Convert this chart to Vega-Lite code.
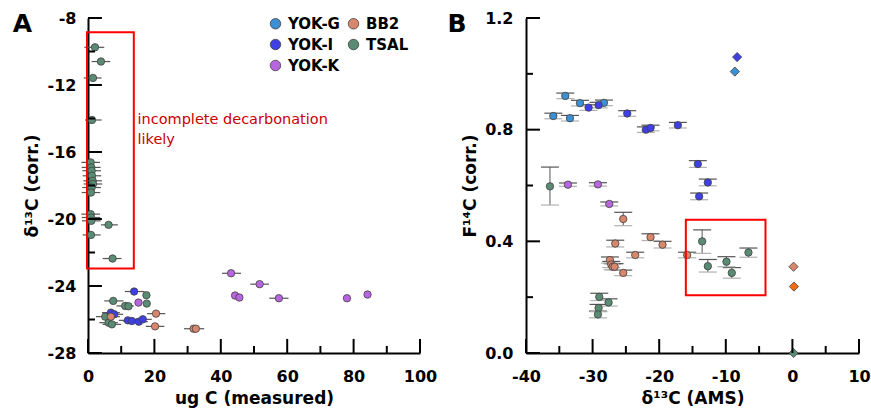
{
  "$schema": "https://vega.github.io/schema/vega-lite/v6.json",
  "padding": {"left": 12, "top": 10, "right": 5, "bottom": 5},
  "spacing": 10,
  "config": {
    "view": {"stroke": null},
    "font": "DejaVu Sans",
    "axis": {
      "domainColor": "#000", "domainWidth": 2, "ticks": false, "tickSize": 0,
      "grid": false, "labelFlush": false, "labelFont": "DejaVu Sans", "labelFontSize": 16, "labelFontWeight": "bold",
      "labelColor": "#000", "titleFont": "DejaVu Sans", "titleFontSize": 17, "titleFontWeight": "bold", "titleColor": "#000"
    }
  },
  "resolve": {"scale": {"color": "independent", "shape": "independent", "size": "independent"}},
  "datasets": {
    "a": [
      {"g": "TSAL", "c": 2.1, "d": -9.75, "lo": -1.1, "hi": 4.9},
      {"g": "TSAL", "c": 3.9, "d": -10.6, "lo": 1.1, "hi": 6.7},
      {"g": "TSAL", "c": 1.5, "d": -11.58, "lo": -1.3, "hi": 4.1},
      {"g": "TSAL", "c": 1.2, "d": -14.09, "lo": -0.9, "hi": 4.1},
      {"g": "TSAL", "c": 0.8, "d": -16.62, "lo": -2.0, "hi": 3.6},
      {"g": "TSAL", "c": 1.0, "d": -16.92, "lo": -1.9, "hi": 3.8},
      {"g": "TSAL", "c": 1.1, "d": -17.12, "lo": -1.7, "hi": 3.9},
      {"g": "TSAL", "c": 1.2, "d": -17.42, "lo": -1.6, "hi": 4.0},
      {"g": "TSAL", "c": 1.4, "d": -17.72, "lo": -1.4, "hi": 4.2},
      {"g": "TSAL", "c": 1.5, "d": -17.91, "lo": -1.3, "hi": 4.3},
      {"g": "TSAL", "c": 1.1, "d": -18.12, "lo": -1.7, "hi": 3.9},
      {"g": "TSAL", "c": 0.9, "d": -18.42, "lo": -1.9, "hi": 3.7},
      {"g": "TSAL", "c": 0.8, "d": -19.71, "lo": -2.0, "hi": 3.6},
      {"g": "TSAL", "c": 0.9, "d": -19.91, "lo": -1.9, "hi": 3.7},
      {"g": "TSAL", "c": 1.0, "d": -20.11, "lo": -1.8, "hi": 3.8},
      {"g": "TSAL", "c": 6.2, "d": -20.35, "lo": 3.9, "hi": 9.0},
      {"g": "TSAL", "c": 0.9, "d": -20.95, "lo": -1.6, "hi": 3.8},
      {"g": "TSAL", "c": 7.4, "d": -22.36, "lo": 4.4, "hi": 10.1},
      {"g": "TSAL", "c": 17.6, "d": -24.55},
      {"g": "TSAL", "c": 7.6, "d": -24.89, "lo": 4.9, "hi": 10.7},
      {"g": "TSAL", "c": 11.2, "d": -25.19, "lo": 8.6, "hi": 13.8},
      {"g": "TSAL", "c": 12.2, "d": -25.21},
      {"g": "TSAL", "c": 17.7, "d": -25.05},
      {"g": "TSAL", "c": 5.2, "d": -25.83, "lo": 2.4, "hi": 8.0},
      {"g": "TSAL", "c": 6.2, "d": -26.19, "lo": 3.4, "hi": 9.0},
      {"g": "TSAL", "c": 7.2, "d": -26.29, "lo": 4.4, "hi": 10.0},
      {"g": "YOK-I", "c": 13.9, "d": -24.33, "lo": 11.1, "hi": 17.0},
      {"g": "YOK-I", "c": 6.9, "d": -25.59, "lo": 4.2, "hi": 9.6},
      {"g": "YOK-I", "c": 7.9, "d": -25.69, "lo": 5.2, "hi": 10.6},
      {"g": "YOK-I", "c": 12.0, "d": -26.05, "lo": 9.3, "hi": 14.7},
      {"g": "YOK-I", "c": 13.2, "d": -26.09, "lo": 10.5, "hi": 15.9},
      {"g": "YOK-I", "c": 15.3, "d": -26.13, "lo": 12.6, "hi": 18.0},
      {"g": "YOK-I", "c": 16.5, "d": -25.99, "lo": 13.8, "hi": 19.2},
      {"g": "YOK-K", "c": 43.1, "d": -23.24, "lo": 40.4, "hi": 46.1},
      {"g": "YOK-K", "c": 51.7, "d": -23.89, "lo": 48.9, "hi": 54.5},
      {"g": "YOK-K", "c": 44.3, "d": -24.57},
      {"g": "YOK-K", "c": 45.6, "d": -24.69},
      {"g": "YOK-K", "c": 57.5, "d": -24.73, "lo": 54.6, "hi": 60.4},
      {"g": "YOK-K", "c": 78.0, "d": -24.73},
      {"g": "YOK-K", "c": 84.2, "d": -24.51},
      {"g": "YOK-K", "c": 15.2, "d": -24.99},
      {"g": "BB2", "c": 6.9, "d": -25.83, "lo": 4.2, "hi": 9.6},
      {"g": "BB2", "c": 20.5, "d": -25.65, "lo": 17.8, "hi": 23.3},
      {"g": "BB2", "c": 20.2, "d": -26.41, "lo": 17.4, "hi": 23.0},
      {"g": "BB2", "c": 31.8, "d": -26.55, "lo": 28.9, "hi": 35.0},
      {"g": "BB2", "c": 32.5, "d": -26.55}
    ],
    "txa": [
      {"v": 0, "p": -28, "q": -27.16},
      {"v": 20, "p": -28, "q": -27.16},
      {"v": 40, "p": -28, "q": -27.16},
      {"v": 60, "p": -28, "q": -27.16},
      {"v": 80, "p": -28, "q": -27.16},
      {"v": 100, "p": -28, "q": -27.16},
      {"v": 10, "p": -28, "q": -27.58},
      {"v": 30, "p": -28, "q": -27.58},
      {"v": 50, "p": -28, "q": -27.58},
      {"v": 70, "p": -28, "q": -27.58},
      {"v": 90, "p": -28, "q": -27.58}
    ],
    "tya": [
      {"v": -28, "p": 0, "q": 4.2},
      {"v": -24, "p": 0, "q": 4.2},
      {"v": -20, "p": 0, "q": 4.2},
      {"v": -16, "p": 0, "q": 4.2},
      {"v": -12, "p": 0, "q": 4.2},
      {"v": -8, "p": 0, "q": 4.2},
      {"v": -26, "p": 0, "q": 2.1},
      {"v": -22, "p": 0, "q": 2.1},
      {"v": -18, "p": 0, "q": 2.1},
      {"v": -14, "p": 0, "q": 2.1},
      {"v": -10, "p": 0, "q": 2.1}
    ],
    "txb": [
      {"v": -40, "p": 0, "q": 0.05},
      {"v": -30, "p": 0, "q": 0.05},
      {"v": -20, "p": 0, "q": 0.05},
      {"v": -10, "p": 0, "q": 0.05},
      {"v": 0, "p": 0, "q": 0.05},
      {"v": 10, "p": 0, "q": 0.05},
      {"v": -35, "p": 0, "q": 0.025},
      {"v": -25, "p": 0, "q": 0.025},
      {"v": -15, "p": 0, "q": 0.025},
      {"v": -5, "p": 0, "q": 0.025},
      {"v": 5, "p": 0, "q": 0.025}
    ],
    "tyb": [
      {"v": 0, "p": -40, "q": -37.9},
      {"v": 0.4, "p": -40, "q": -37.9},
      {"v": 0.8, "p": -40, "q": -37.9},
      {"v": 1.2, "p": -40, "q": -37.9},
      {"v": 0.2, "p": -40, "q": -38.95},
      {"v": 0.6, "p": -40, "q": -38.95},
      {"v": 1.0, "p": -40, "q": -38.95}
    ],
    "b": [
      {"g": "YOK-G", "k": "circle", "x": -34.1, "f": 0.921, "lo": 0.911, "hi": 0.931},
      {"g": "YOK-G", "k": "circle", "x": -35.9, "f": 0.849, "lo": 0.839, "hi": 0.859},
      {"g": "YOK-G", "k": "circle", "x": -33.4, "f": 0.841, "lo": 0.831, "hi": 0.851},
      {"g": "YOK-G", "k": "circle", "x": -31.9, "f": 0.895, "lo": 0.885, "hi": 0.905},
      {"g": "YOK-G", "k": "circle", "x": -28.3, "f": 0.896, "lo": 0.886, "hi": 0.906},
      {"g": "YOK-G", "k": "diamond", "x": -8.64, "f": 1.008},
      {"g": "YOK-I", "k": "circle", "x": -30.6, "f": 0.879, "lo": 0.869, "hi": 0.889},
      {"g": "YOK-I", "k": "circle", "x": -29.1, "f": 0.888, "lo": 0.878, "hi": 0.898},
      {"g": "YOK-I", "k": "circle", "x": -24.8, "f": 0.858, "lo": 0.848, "hi": 0.868},
      {"g": "YOK-I", "k": "circle", "x": -22.0, "f": 0.800, "lo": 0.790, "hi": 0.810},
      {"g": "YOK-I", "k": "circle", "x": -21.3, "f": 0.806, "lo": 0.796, "hi": 0.816},
      {"g": "YOK-I", "k": "circle", "x": -17.2, "f": 0.816, "lo": 0.806, "hi": 0.826},
      {"g": "YOK-I", "k": "circle", "x": -14.2, "f": 0.677, "lo": 0.665, "hi": 0.689},
      {"g": "YOK-I", "k": "circle", "x": -12.7, "f": 0.611, "lo": 0.599, "hi": 0.623},
      {"g": "YOK-I", "k": "circle", "x": -14.0, "f": 0.561, "lo": 0.549, "hi": 0.573},
      {"g": "YOK-I", "k": "diamond", "x": -8.3, "f": 1.060},
      {"g": "YOK-K", "k": "circle", "x": -33.7, "f": 0.603, "lo": 0.597, "hi": 0.609},
      {"g": "YOK-K", "k": "circle", "x": -29.2, "f": 0.604, "lo": 0.598, "hi": 0.610},
      {"g": "YOK-K", "k": "circle", "x": -27.5, "f": 0.534, "lo": 0.527, "hi": 0.541},
      {"g": "TSAL", "k": "circle", "x": -36.4, "f": 0.597, "lo": 0.530, "hi": 0.666},
      {"g": "TSAL", "k": "circle", "x": -29.0, "f": 0.201, "lo": 0.188, "hi": 0.214},
      {"g": "TSAL", "k": "circle", "x": -27.6, "f": 0.181, "lo": 0.168, "hi": 0.194},
      {"g": "TSAL", "k": "circle", "x": -29.1, "f": 0.161, "lo": 0.148, "hi": 0.174},
      {"g": "TSAL", "k": "circle", "x": -29.2, "f": 0.138, "lo": 0.126, "hi": 0.150},
      {"g": "TSAL", "k": "circle", "x": -13.55, "f": 0.400, "lo": 0.357, "hi": 0.441},
      {"g": "TSAL", "k": "circle", "x": -12.7, "f": 0.311, "lo": 0.290, "hi": 0.335},
      {"g": "TSAL", "k": "circle", "x": -9.9, "f": 0.327, "lo": 0.309, "hi": 0.345},
      {"g": "TSAL", "k": "circle", "x": -9.1, "f": 0.287, "lo": 0.268, "hi": 0.306},
      {"g": "TSAL", "k": "circle", "x": -6.6, "f": 0.360, "lo": 0.343, "hi": 0.376},
      {"g": "TSAL", "k": "diamond", "x": 0.17, "f": 0.0},
      {"g": "BB2", "k": "circle", "x": -25.4, "f": 0.480, "lo": 0.456, "hi": 0.504},
      {"g": "BB2", "k": "circle", "x": -26.6, "f": 0.392, "lo": 0.380, "hi": 0.404},
      {"g": "BB2", "k": "circle", "x": -21.3, "f": 0.415, "lo": 0.403, "hi": 0.427},
      {"g": "BB2", "k": "circle", "x": -19.5, "f": 0.388, "lo": 0.376, "hi": 0.400},
      {"g": "BB2", "k": "circle", "x": -23.6, "f": 0.351, "lo": 0.341, "hi": 0.361},
      {"g": "BB2", "k": "circle", "x": -15.8, "f": 0.351, "lo": 0.341, "hi": 0.361},
      {"g": "BB2", "k": "circle", "x": -27.4, "f": 0.333, "lo": 0.322, "hi": 0.344},
      {"g": "BB2", "k": "circle", "x": -27.2, "f": 0.317, "lo": 0.306, "hi": 0.328},
      {"g": "BB2", "k": "circle", "x": -27.0, "f": 0.309, "lo": 0.298, "hi": 0.320},
      {"g": "BB2", "k": "circle", "x": -26.7, "f": 0.309, "lo": 0.298, "hi": 0.320},
      {"g": "BB2", "k": "circle", "x": -25.4, "f": 0.287, "lo": 0.277, "hi": 0.297},
      {"g": "BB2", "k": "diamond", "x": 0.17, "f": 0.309},
      {"g": "STD", "k": "diamond", "x": 0.23, "f": 0.238}
    ]
  },
  "hconcat": [
    {
      "width": 332,
      "height": 335,
      "resolve": {"axis": {"x": "independent", "y": "independent"}},
      "layer": [
        {
          "data": {"name": "a"},
          "transform": [{"filter": "isValid(datum.lo)"}],
          "mark": {"type": "rule", "color": "#555", "strokeWidth": 1.2},
          "encoding": {
            "x": {"field": "lo", "type": "quantitative", "title": "ug C (measured)",
              "scale": {"domain": [0, 100], "nice": false, "zero": false},
              "axis": {"orient": "bottom", "values": [0, 20, 40, 60, 80, 100],
                "labelExpr": "'' + datum.value", "labelPadding": 15, "titlePadding": 6}},
            "x2": {"field": "hi"},
            "y": {"field": "d", "type": "quantitative", "title": "δ¹³C (corr.)",
              "scale": {"domain": [-28, -8], "nice": false, "zero": false},
              "axis": {"orient": "left", "values": [-28, -24, -20, -16, -12, -8],
                "labelExpr": "'' + datum.value", "labelPadding": 12, "titlePadding": 6}}
          }
        },
        {
          "data": {"name": "a"},
          "mark": {"type": "point", "filled": true, "shape": "circle", "size": 55, "stroke": "#404040", "strokeWidth": 0.8, "opacity": 1},
          "encoding": {
            "x": {"field": "c", "type": "quantitative", "axis": null},
            "y": {"field": "d", "type": "quantitative", "axis": null},
            "color": {"field": "g", "type": "nominal",
              "scale": {"domain": ["YOK-G", "YOK-I", "YOK-K", "BB2", "TSAL"], "range": ["#3b8fd4", "#3f3fe6", "#b866e0", "#d8866c", "#5a8c74"]},
              "legend": {"orient": "none", "legendX": 180, "legendY": -2, "columns": 2, "title": null, "padding": 0,
                "symbolType": "circle", "symbolSize": 110, "symbolStrokeColor": "#404040", "symbolStrokeWidth": 0.8, "symbolOpacity": 1,
                "labelFont": "DejaVu Sans", "labelFontSize": 15, "labelFontWeight": "bold", "labelColor": "#000",
                "labelOffset": 5, "rowPadding": 5, "columnPadding": 6}}
          }
        },
        {
          "data": {"values": [{"x1": -0.3, "x2": 13.8, "y1": -8.85, "y2": -22.96}]},
          "mark": {"type": "rect", "fillOpacity": 0, "stroke": "#ff0000", "strokeWidth": 2},
          "encoding": {
            "x": {"field": "x1", "type": "quantitative", "axis": null},
            "x2": {"field": "x2"},
            "y": {"field": "y1", "type": "quantitative", "axis": null},
            "y2": {"field": "y2"}
          }
        },
        {
          "data": {"values": [{"x": 14.9, "y": -13.65, "t": "incomplete decarbonation\nlikely"}]},
          "mark": {"type": "text", "align": "left", "baseline": "top", "lineBreak": "\n", "font": "DejaVu Sans", "fontSize": 14.5, "color": "#c80000", "lineHeight": 20},
          "encoding": {
            "x": {"field": "x", "type": "quantitative", "axis": null},
            "y": {"field": "y", "type": "quantitative", "axis": null},
            "text": {"field": "t"}
          }
        },
        {
          "data": {"values": [{"x": -22.7, "y": -8.85, "t": "A"}]},
          "mark": {"type": "text", "align": "left", "baseline": "alphabetic", "font": "DejaVu Sans", "fontSize": 25, "fontWeight": "bold", "color": "#000"},
          "encoding": {
            "x": {"field": "x", "type": "quantitative", "axis": null},
            "y": {"field": "y", "type": "quantitative", "axis": null},
            "text": {"field": "t"}
          }
        },
        {
          "data": {"name": "txa"},
          "mark": {"type": "rule", "color": "#000", "strokeWidth": 2},
          "encoding": {
            "x": {"field": "v", "type": "quantitative", "axis": null},
            "y": {"field": "p", "type": "quantitative", "axis": null},
            "y2": {"field": "q"}
          }
        },
        {
          "data": {"name": "tya"},
          "mark": {"type": "rule", "color": "#000", "strokeWidth": 2},
          "encoding": {
            "y": {"field": "v", "type": "quantitative", "axis": null},
            "x": {"field": "p", "type": "quantitative", "axis": null},
            "x2": {"field": "q"}
          }
        }
      ]
    },
    {
      "width": 333,
      "height": 335,
      "resolve": {"axis": {"x": "independent", "y": "independent"}},
      "layer": [
        {
          "data": {"name": "b"},
          "transform": [{"filter": "isValid(datum.lo)"}],
          "mark": {"type": "rule", "color": "#555", "strokeWidth": 1},
          "encoding": {
            "x": {"field": "x", "type": "quantitative", "title": "δ¹³C (AMS)",
              "scale": {"domain": [-40, 10], "nice": false, "zero": false},
              "axis": {"orient": "bottom", "values": [-40, -30, -20, -10, 0, 10],
                "labelExpr": "'' + datum.value", "labelPadding": 15, "titlePadding": 6}},
            "y": {"field": "lo", "type": "quantitative", "title": "F¹⁴C (corr.)",
              "scale": {"domain": [0, 1.2], "nice": false, "zero": false},
              "axis": {"orient": "left", "values": [0, 0.4, 0.8, 1.2], "format": ".1f",
                "labelPadding": 13, "titlePadding": 5}},
            "y2": {"field": "hi"}
          }
        },
        {
          "data": {"name": "b"},
          "transform": [{"filter": "isValid(datum.lo)"}],
          "mark": {"type": "tick", "orient": "horizontal", "color": "#555", "size": 18, "thickness": 1.2, "opacity": 1},
          "encoding": {
            "x": {"field": "x", "type": "quantitative", "axis": null},
            "y": {"field": "hi", "type": "quantitative", "axis": null}
          }
        },
        {
          "data": {"name": "b"},
          "transform": [{"filter": "isValid(datum.lo)"}],
          "mark": {"type": "tick", "orient": "horizontal", "color": "#b0b0b0", "size": 18, "thickness": 1.2, "opacity": 1},
          "encoding": {
            "x": {"field": "x", "type": "quantitative", "axis": null},
            "y": {"field": "lo", "type": "quantitative", "axis": null}
          }
        },
        {
          "data": {"name": "b"},
          "mark": {"type": "point", "filled": true, "stroke": "#404040", "strokeWidth": 0.8, "opacity": 1},
          "encoding": {
            "x": {"field": "x", "type": "quantitative", "axis": null},
            "y": {"field": "f", "type": "quantitative", "axis": null},
            "shape": {"field": "k", "type": "nominal", "scale": {"domain": ["circle", "diamond"], "range": ["circle", "diamond"]}, "legend": null},
            "size": {"field": "k", "type": "nominal", "scale": {"domain": ["circle", "diamond"], "range": [55, 85]}, "legend": null},
            "color": {"field": "g", "type": "nominal", "legend": null,
              "scale": {"domain": ["YOK-G", "YOK-I", "YOK-K", "BB2", "TSAL", "STD"], "range": ["#3b8fd4", "#3f3fe6", "#b866e0", "#d8866c", "#5a8c74", "#f26b0f"]}}
          }
        },
        {
          "data": {"values": [{"x1": -16.0, "x2": -4.04, "y1": 0.477, "y2": 0.207}]},
          "mark": {"type": "rect", "fillOpacity": 0, "stroke": "#ff0000", "strokeWidth": 2},
          "encoding": {
            "x": {"field": "x1", "type": "quantitative", "axis": null},
            "x2": {"field": "x2"},
            "y": {"field": "y1", "type": "quantitative", "axis": null},
            "y2": {"field": "y2"}
          }
        },
        {
          "data": {"values": [{"x": -51.8, "y": 1.151, "t": "B"}]},
          "mark": {"type": "text", "align": "left", "baseline": "alphabetic", "font": "DejaVu Sans", "fontSize": 25, "fontWeight": "bold", "color": "#000"},
          "encoding": {
            "x": {"field": "x", "type": "quantitative", "axis": null},
            "y": {"field": "y", "type": "quantitative", "axis": null},
            "text": {"field": "t"}
          }
        },
        {
          "data": {"name": "txb"},
          "mark": {"type": "rule", "color": "#000", "strokeWidth": 2},
          "encoding": {
            "x": {"field": "v", "type": "quantitative", "axis": null},
            "y": {"field": "p", "type": "quantitative", "axis": null},
            "y2": {"field": "q"}
          }
        },
        {
          "data": {"name": "tyb"},
          "mark": {"type": "rule", "color": "#000", "strokeWidth": 2},
          "encoding": {
            "y": {"field": "v", "type": "quantitative", "axis": null},
            "x": {"field": "p", "type": "quantitative", "axis": null},
            "x2": {"field": "q"}
          }
        }
      ]
    }
  ]
}
